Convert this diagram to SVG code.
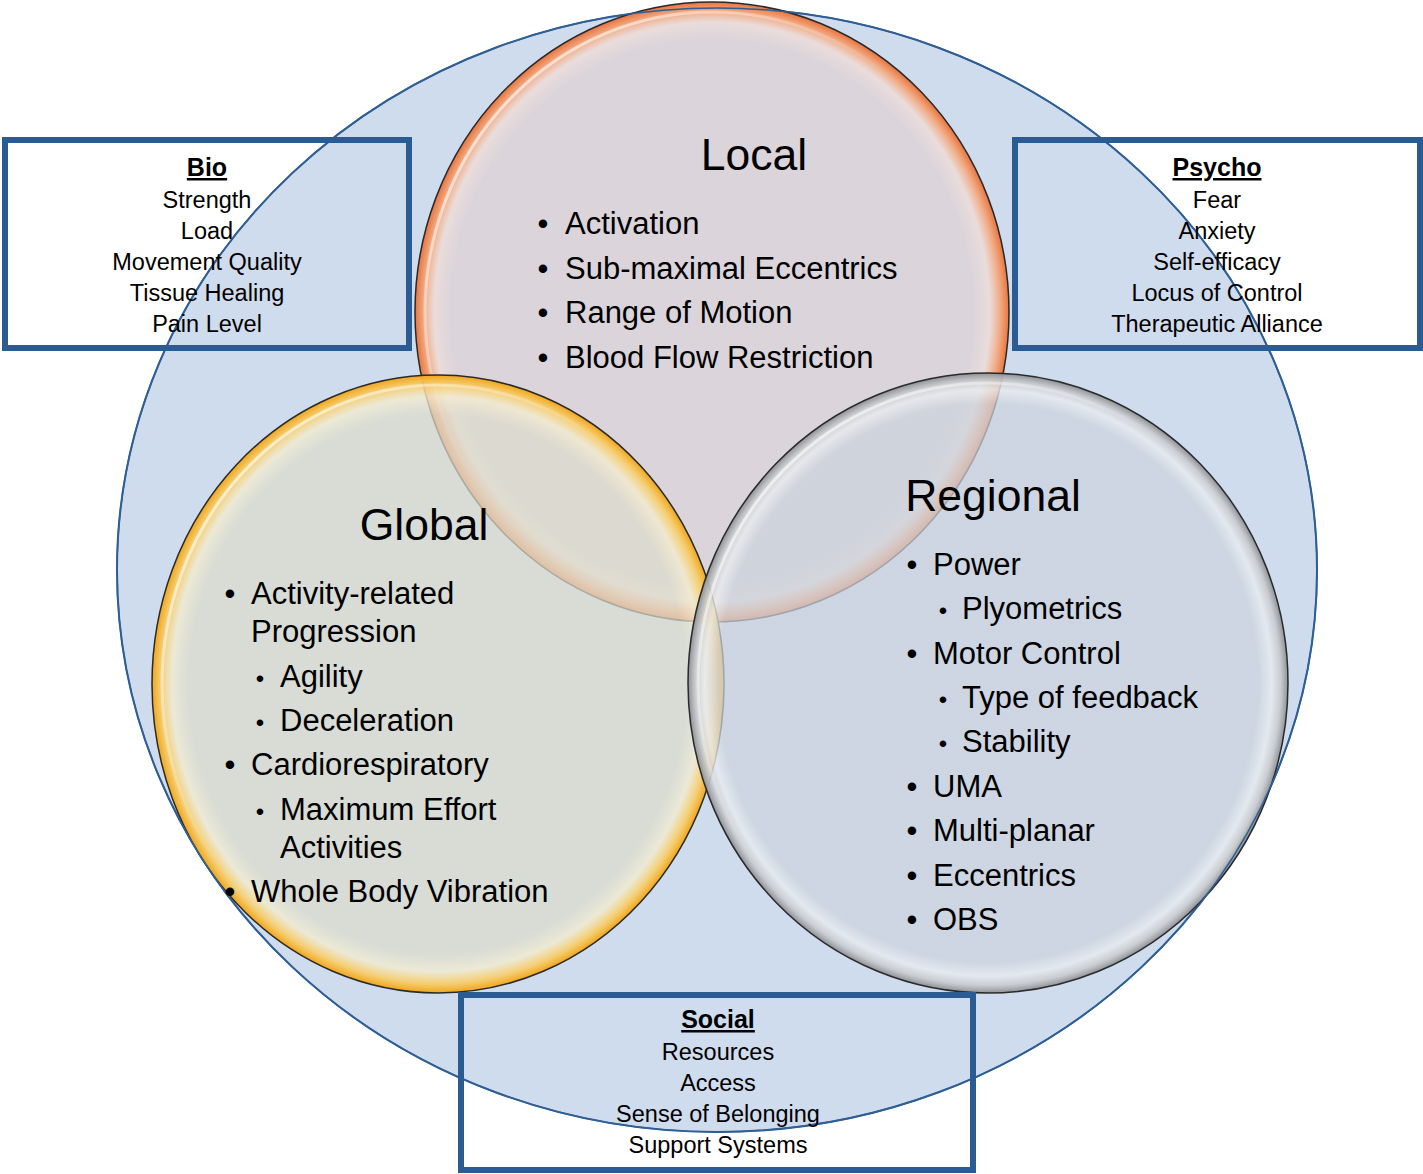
<svg xmlns="http://www.w3.org/2000/svg" width="1423" height="1174" viewBox="0 0 1423 1174">
<defs>
<radialGradient id="gLocal" cx="50%" cy="50%" r="50%">
<stop offset="0" stop-color="#dfd2d3" stop-opacity="0.72"/>
<stop offset="0.88" stop-color="#dfd2d3" stop-opacity="0.72"/>
<stop offset="0.935" stop-color="#f1dcd6" stop-opacity="0.8"/>
<stop offset="0.97" stop-color="#f4a77c" stop-opacity="0.92"/>
<stop offset="1" stop-color="#e8733c" stop-opacity="1"/>
</radialGradient>
<radialGradient id="gGlobal" cx="50%" cy="50%" r="50%">
<stop offset="0" stop-color="#dcdccc" stop-opacity="0.72"/>
<stop offset="0.87" stop-color="#dcdccc" stop-opacity="0.72"/>
<stop offset="0.93" stop-color="#f3eccf" stop-opacity="0.8"/>
<stop offset="0.97" stop-color="#f8cd68" stop-opacity="0.92"/>
<stop offset="1" stop-color="#f0a51a" stop-opacity="1"/>
</radialGradient>
<radialGradient id="gRegional" cx="50%" cy="50%" r="50%">
<stop offset="0" stop-color="#ccd3dd" stop-opacity="0.72"/>
<stop offset="0.9" stop-color="#ccd3dd" stop-opacity="0.72"/>
<stop offset="0.945" stop-color="#e9ecef" stop-opacity="0.8"/>
<stop offset="0.975" stop-color="#c9cbce" stop-opacity="0.9"/>
<stop offset="1" stop-color="#8e9195" stop-opacity="1"/>
</radialGradient>
<linearGradient id="hl" x1="0" y1="0" x2="1" y2="1">
<stop offset="0" stop-color="#ffffff" stop-opacity="0.9"/>
<stop offset="0.45" stop-color="#ffffff" stop-opacity="0"/>
<stop offset="1" stop-color="#ffffff" stop-opacity="0"/>
</linearGradient>
</defs>
<style>
.venn{stroke:#2a2a2a;stroke-width:1.5}
.hl{fill:none;stroke:url(#hl);stroke-width:3}
.title{font-family:"Liberation Sans",Arial,sans-serif;font-size:44.5px;fill:#000}
.item{font-family:"Liberation Sans",Arial,sans-serif;font-size:31px;fill:#000}
.b1{font-family:"Liberation Sans",Arial,sans-serif;font-size:31px;fill:#000;text-anchor:middle}
.b2{font-family:"Liberation Sans",Arial,sans-serif;font-size:24px;fill:#000;text-anchor:middle}
.box{fill:none;stroke:#2b5b93;stroke-width:6}
.bh{font-family:"Liberation Sans",Arial,sans-serif;font-size:25px;font-weight:bold;text-decoration:underline;fill:#000;text-anchor:middle}
.bt{font-family:"Liberation Sans",Arial,sans-serif;font-size:23.5px;fill:#000;text-anchor:middle}
</style>
<rect width="1423" height="1174" fill="#ffffff"/>
<g id="outer">
<ellipse cx="717" cy="570" rx="600" ry="562" fill="#cfdcee" stroke="#2f5f94" stroke-width="2"/>
</g>
<g id="local">
<ellipse class="venn" cx="712" cy="312" rx="297" ry="310" fill="url(#gLocal)"/>
<ellipse class="hl" cx="712" cy="312" rx="287" ry="300"/>
</g>
<g id="global">
<ellipse class="venn" cx="438" cy="684" rx="286" ry="309" fill="url(#gGlobal)"/>
<ellipse class="hl" cx="438" cy="684" rx="276" ry="299"/>
</g>
<g id="regional">
<ellipse class="venn" cx="988" cy="683" rx="300" ry="310" fill="url(#gRegional)"/>
<ellipse class="hl" cx="988" cy="683" rx="290" ry="300"/>
</g>
<g id="outer-outline">
<ellipse cx="717" cy="570" rx="600" ry="562" fill="none" stroke="#2f5f94" stroke-width="1.5"/>
</g>
<g id="local-text">
<text class="title" x="754" y="170" text-anchor="middle">Local</text>
<text class="b1" x="543" y="234">•</text><text class="item" x="565" y="234">Activation</text>
<text class="b1" x="543" y="279">•</text><text class="item" x="565" y="279">Sub-maximal Eccentrics</text>
<text class="b1" x="543" y="323">•</text><text class="item" x="565" y="323">Range of Motion</text>
<text class="b1" x="543" y="368">•</text><text class="item" x="565" y="368">Blood Flow Restriction</text>
</g>
<g id="global-text">
<text class="title" x="424" y="540" text-anchor="middle">Global</text>
<text class="b1" x="230" y="604">•</text><text class="item" x="251" y="604">Activity-related</text>
<text class="item" x="251" y="642">Progression</text>
<text class="b2" x="260" y="687">•</text><text class="item" x="280" y="687">Agility</text>
<text class="b2" x="260" y="731">•</text><text class="item" x="280" y="731">Deceleration</text>
<text class="b1" x="230" y="775">•</text><text class="item" x="251" y="775">Cardiorespiratory</text>
<text class="b2" x="260" y="820">•</text><text class="item" x="280" y="820">Maximum Effort</text>
<text class="item" x="280" y="858">Activities</text>
<text class="b1" x="230" y="902">•</text><text class="item" x="251" y="902">Whole Body Vibration</text>
</g>
<g id="regional-text">
<text class="title" x="993" y="511" text-anchor="middle">Regional</text>
<text class="b1" x="912" y="575">•</text><text class="item" x="933" y="575">Power</text>
<text class="b2" x="943" y="619">•</text><text class="item" x="962" y="619">Plyometrics</text>
<text class="b1" x="912" y="664">•</text><text class="item" x="933" y="664">Motor Control</text>
<text class="b2" x="943" y="708">•</text><text class="item" x="962" y="708">Type of feedback</text>
<text class="b2" x="943" y="752">•</text><text class="item" x="962" y="752">Stability</text>
<text class="b1" x="912" y="797">•</text><text class="item" x="933" y="797">UMA</text>
<text class="b1" x="912" y="841">•</text><text class="item" x="933" y="841">Multi-planar</text>
<text class="b1" x="912" y="886">•</text><text class="item" x="933" y="886">Eccentrics</text>
<text class="b1" x="912" y="930">•</text><text class="item" x="933" y="930">OBS</text>
</g>
<g id="bio">
<rect class="box" x="5" y="140" width="404" height="208"/>
<text class="bh" x="207" y="176">Bio</text>
<text class="bt" x="207" y="208">Strength</text>
<text class="bt" x="207" y="239">Load</text>
<text class="bt" x="207" y="270">Movement Quality</text>
<text class="bt" x="207" y="301">Tissue Healing</text>
<text class="bt" x="207" y="332">Pain Level</text>
</g>
<g id="psycho">
<rect class="box" x="1015" y="140" width="405" height="208"/>
<text class="bh" x="1217" y="176">Psycho</text>
<text class="bt" x="1217" y="208">Fear</text>
<text class="bt" x="1217" y="239">Anxiety</text>
<text class="bt" x="1217" y="270">Self-efficacy</text>
<text class="bt" x="1217" y="301">Locus of Control</text>
<text class="bt" x="1217" y="332">Therapeutic Alliance</text>
</g>
<g id="social">
<rect class="box" x="461" y="995" width="512" height="175"/>
<text class="bh" x="718" y="1028">Social</text>
<text class="bt" x="718" y="1060">Resources</text>
<text class="bt" x="718" y="1091">Access</text>
<text class="bt" x="718" y="1122">Sense of Belonging</text>
<text class="bt" x="718" y="1153">Support Systems</text>
</g>
</svg>
